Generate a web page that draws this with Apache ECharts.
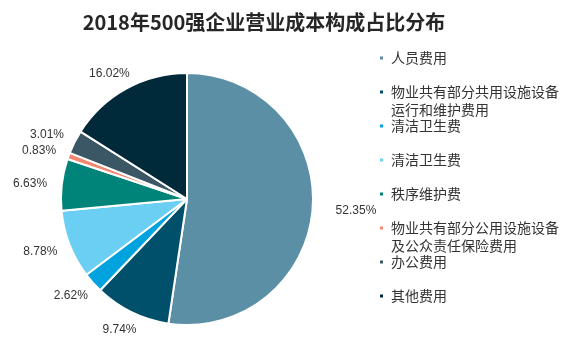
<!DOCTYPE html>
<html>
<head>
<meta charset="utf-8">
<script src="https://cdn.jsdelivr.net/npm/echarts@6/dist/echarts.min.js"></script>
<style>
html,body{margin:0;padding:0;background:#fff;}
#c{width:570px;height:350px;}
</style>
</head>
<body>
<div id="c"></div>
<script>
var titleText = '2018年500强企业营业成本构成占比分布';
var categories = ['人员费用', '物业共有部分共用设施设备运行和维护费用', '清洁卫生费', '清洁卫生费', '秩序维护费', '物业共有部分公用设施设备及公众责任保险费用', '办公费用', '其他费用'];
var legendLines = [['人员费用'], ['物业共有部分共用设施设备', '运行和维护费用'], ['清洁卫生费'], ['清洁卫生费'], ['秩序维护费'], ['物业共有部分公用设施设备', '及公众责任保险费用'], ['办公费用'], ['其他费用']];
var values = [52.35, 9.74, 2.62, 8.78, 6.63, 0.83, 3.01, 16.02];
var colors = ['#5b8fa6', '#004f6b', '#00a3dd', '#6bcff4', '#00847a', '#f2876f', '#3b5664', '#00293a'];

var chart = echarts.init(document.getElementById('c'), null, {renderer: 'canvas'});

var legends = [];
var lineH = 17.5;
for (var i = 0; i < categories.length; i++) {
  (function (i) {
    var lines = legendLines[i];
    var text = lines.length > 1 ? '\n' + lines.join('\n') : lines[0];
    var nLines = lines.length > 1 ? 3 : 1;
    var centerY = 58 + 34 * i;
    legends.push({
      orient: 'vertical',
      left: 378,
      top: centerY - nLines * lineH / 2,
      padding: 0,
      itemWidth: 5,
      itemHeight: 5,
      icon: 'rect',
      selectedMode: false,
      data: [{name: categories[i], itemStyle: {color: colors[i]}}],
      formatter: function () { return text; },
      textStyle: {
        fontFamily: '"Noto Sans CJK SC", sans-serif',
        fontSize: 14,
        lineHeight: lineH,
        color: '#333333',
        padding: [0, 0, 0, 2]
      }
    });
  })(i);
}

var option = {
  backgroundColor: '#ffffff',
  animation: false,
  title: {
    text: titleText,
    left: 264,
    top: 10,
    textAlign: 'center',
    padding: 0,
    textStyle: {
      fontFamily: '"Noto Sans CJK SC", sans-serif',
      fontSize: 20,
      fontWeight: 'bold',
      lineHeight: 24,
      color: '#262626'
    }
  },
  legend: legends,
  series: [{
    type: 'pie',
    center: [187, 199],
    radius: 126,
    startAngle: 90,
    clockwise: true,
    avoidLabelOverlap: false,
    data: categories.map(function (n, i) {
      return {name: n, value: values[i], itemStyle: {color: colors[i]}};
    }),
    itemStyle: {borderColor: '#ffffff', borderWidth: 2},
    label: {
      show: true,
      position: 'outside',
      formatter: function (p) { return values[p.dataIndex].toFixed(2) + '%'; },
      fontFamily: '"Liberation Sans", Arial, sans-serif',
      fontSize: 12,
      color: '#333333'
    },
    labelLine: {show: true, length: 18, length2: 0, lineStyle: {opacity: 0}},
    labelLayout: function (p) {
      var pts = p.labelLinePoints;
      if (!pts) return {dy: 1};
      var vx = pts[1][0] - pts[0][0], vy = pts[1][1] - pts[0][1];
      var len = Math.sqrt(vx * vx + vy * vy) || 1;
      var uy = vy / len;
      if (p.align === 'right') return {dx: 8 + 12 * uy * uy, dy: 1};
      return {dy: 1};
    },
    emphasis: {disabled: true}
  }]
};
chart.setOption(option);
</script>
</body>
</html>
